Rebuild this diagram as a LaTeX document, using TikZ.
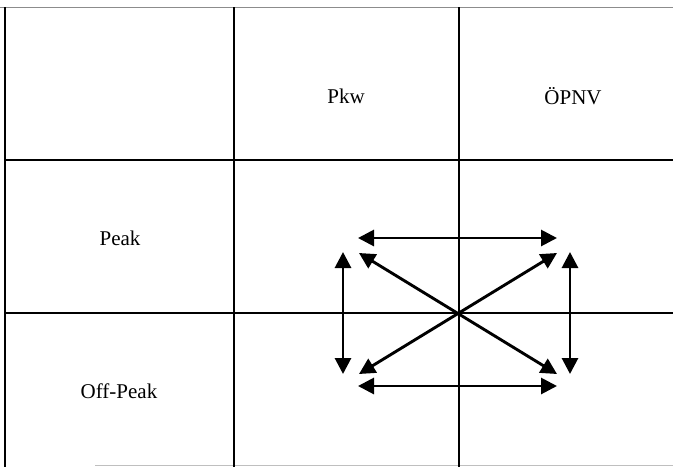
\documentclass[tikz,border=0pt]{standalone}
\usepackage{fontspec}
\setmainfont{Liberation Serif}
\usetikzlibrary{arrows.meta}
\begin{document}
\begin{tikzpicture}[x=1pt,y=-1pt,
  grid/.style={line width=1.2pt,black},
  faint/.style={line width=1pt,black!45},
  lbl/.style={font=\fontsize{21}{24}\selectfont,inner sep=0pt},
  dbl/.style={line width=2.9pt,{Triangle[length=16pt,width=16pt]}-{Triangle[length=16pt,width=16pt]}}]
\useasboundingbox (0,0) rectangle (673,467);
\fill[white] (0,0) rectangle (673,467);
% grid
\draw[faint] (0,7) -- (673,7);
\draw[faint,black!25] (95,465) -- (673,465);
\draw[grid] (5,7) -- (5,467);
\draw[grid] (234,7) -- (234,467);
\draw[grid] (459,7) -- (459,467);
\draw[grid] (5,160) -- (673,160);
\draw[grid] (5,313) -- (673,313);
% labels
\node[lbl] (pkw) at (346,96) {Pkw};
\node[lbl] (opnv) at (573,96) {ÖPNV};
\node[lbl] (peak) at (120,238) {Peak};
\node[lbl] (offpeak) at (119,391) {Off-Peak};
% arrow endpoints
\coordinate (tl) at (358,238);
\coordinate (tr) at (557,238);
\coordinate (bl) at (358,386);
\coordinate (br) at (557,386);
\coordinate (lt) at (343,252);
\coordinate (lb) at (343,374);
\coordinate (rt) at (570,252);
\coordinate (rb) at (570,374);
\coordinate (dtl) at (359,253);
\coordinate (dbr) at (557,374);
\coordinate (dtr) at (557,253);
\coordinate (dbl) at (359,374);
\draw[dbl] (tl) -- (tr);
\draw[dbl] (bl) -- (br);
\draw[dbl] (lt) -- (lb);
\draw[dbl] (rt) -- (rb);
\draw[dbl] (dtl) -- (dbr);
\draw[dbl] (dtr) -- (dbl);
\end{tikzpicture}
\end{document}
